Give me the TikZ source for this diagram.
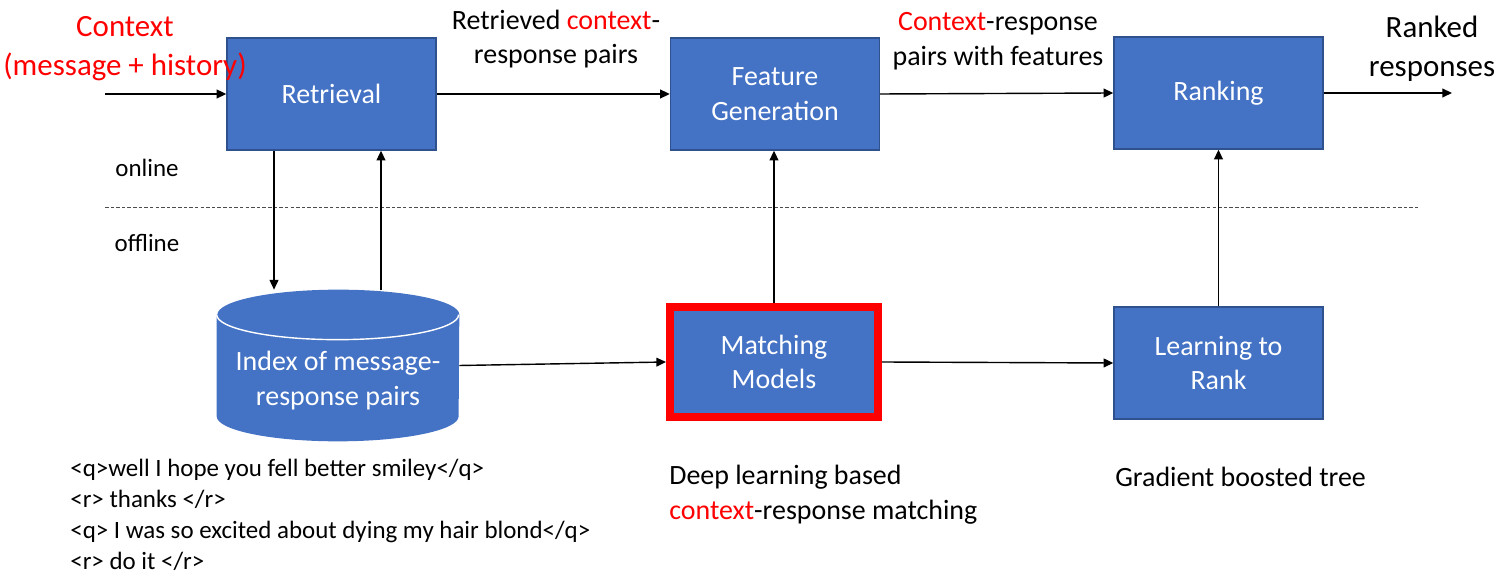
\documentclass[tikz,border=0pt]{standalone}
\usepackage{fontspec}
\setmainfont{Carlito}
\usepackage{xcolor}
\usepackage{tikz}
\usetikzlibrary{arrows.meta,positioning,calc}
\definecolor{boxblue}{HTML}{4472C4}
\definecolor{boxedge}{HTML}{2F528F}
\definecolor{ctxred}{HTML}{FF0000}
\newcommand\fsnode{\fontsize{15.9}{19.8}\selectfont}
\newcommand\fsbig{\fontsize{17.6}{22.1}\selectfont}
\newcommand\fsnote{\fontsize{14.2}{17.6}\selectfont}
\tikzset{
	box/.style={draw=boxedge, fill=boxblue, text=white, align=center,
		line width=0.8pt, minimum width=4.18cm, minimum height=2.24cm, font=\fsnode},
	arrow/.style={-{Triangle[length=5.5pt,width=5pt]}, line width=0.8pt},
	lbl/.style={align=center, inner sep=0pt, font=\fsnode},
	note/.style={align=left, inner sep=0pt, font=\fsnote}
}
\begin{document}
\begin{tikzpicture}[
			x=0.02cm, y=-0.02cm,
			dbbody/.style={inner sep=0pt, minimum width=4.84cm, minimum height=3.02cm},
			dbcap/.style={x radius=2.42cm, y radius=0.5cm},
			]
			\useasboundingbox (0,0) rectangle (1502,580);
			
			%% -- Online pipeline
			\node[box] (retr) at (331.5,94) {Retrieval};
			\node[box] (feat) at (775,94) {Feature\\Generation};
			\node[box] (rank) at (1218.5,93) {Ranking};
			
			%% -- Offline part (index drawn as a cylinder)
			\node[dbbody] (idx) at (338,365.5) {};
			\fill[boxblue] ([yshift=-0.5cm]idx.north west)
			-- ([yshift=0.5cm]idx.south west)
			arc[start angle=180, end angle=360, dbcap]
			-- ([yshift=-0.5cm]idx.north east)
			arc[start angle=0, end angle=180, dbcap] -- cycle;
			\draw[white, line width=0.8pt] ([yshift=-0.5cm]idx.north west)
			arc[start angle=180, end angle=360, dbcap];
			\node[lbl, text=white] (idxtxt) at ($(idx.center)+(0,15)$)
			{Index of message-\\response pairs};
			
			\node[box, draw=ctxred, line width=4.5pt,
			minimum width=4.16cm, minimum height=2.2cm] (match) at (774,362)
			{Matching\\Models};
			\node[box] (learn) at (1218.5,363) {Learning to\\Rank};
			
			%% -- Labels on the flow
			\node[lbl, text=ctxred, font=\fsbig] (ctx) at (125,49)
			{Context\\(message + history)};
			\node[lbl] (retrtxt) at (556,39)
			{Retrieved \textcolor{ctxred}{context}-\\response pairs};
			\node[lbl] (feattxt) at (998,41)
			{\textcolor{ctxred}{Context}-response\\pairs with features};
			\node[lbl, font=\fsbig] (ranked) at (1432,49) {Ranked\\responses};
			\coordinate (in) at (105,94);
			\coordinate (out) at (1452,93);
			
			%% -- online / offline split
			\node[note] (online) at (147,168) {online};
			\node[note] (offline) at (147,243) {offline};
			\draw[line width=0.5pt, dash pattern=on 2pt off 1.2pt, black!70]
			(105,207) -- (1418,207);
			
			%% -- Notes below
			\node[note, anchor=west] (pairs) at (70,515)
			{<q>well I hope you fell better smiley</q>\\
				<r> thanks </r>\\
				<q> I was so excited about dying my hair blond</q>\\
				<r> do it </r>};
			\node[lbl, anchor=west, align=left] (deep) at (669,495)
			{Deep learning based\\\textcolor{ctxred}{context}-response matching};
			\node[lbl, anchor=west] (gbt) at (1115,477) {Gradient boosted tree};
			
			%% -- Arrows
			\draw[arrow] (in) -- (retr.west);
			\draw[arrow] (retr.east) -- (feat.west);
			\draw[arrow] (feat.east) -- (rank.west);
			\draw[arrow] (rank.east) -- (out);
			\draw[arrow] ([xshift=-1.15cm]retr.south) -- ([xshift=-1.15cm]retr.south |- idx.north);
			\draw[arrow] ([xshift=0.99cm]retr.south |- idx.north) -- ([xshift=0.99cm]retr.south);
			\draw[arrow] (idx.east) -- (match.west);
			\draw[arrow] (match.north) -- (match.north |- feat.south);
			\draw[arrow] (match.east) -- (learn.west);
			\draw[arrow] (learn.north) -- (rank.south);
			
		\end{tikzpicture}
\end{document}
